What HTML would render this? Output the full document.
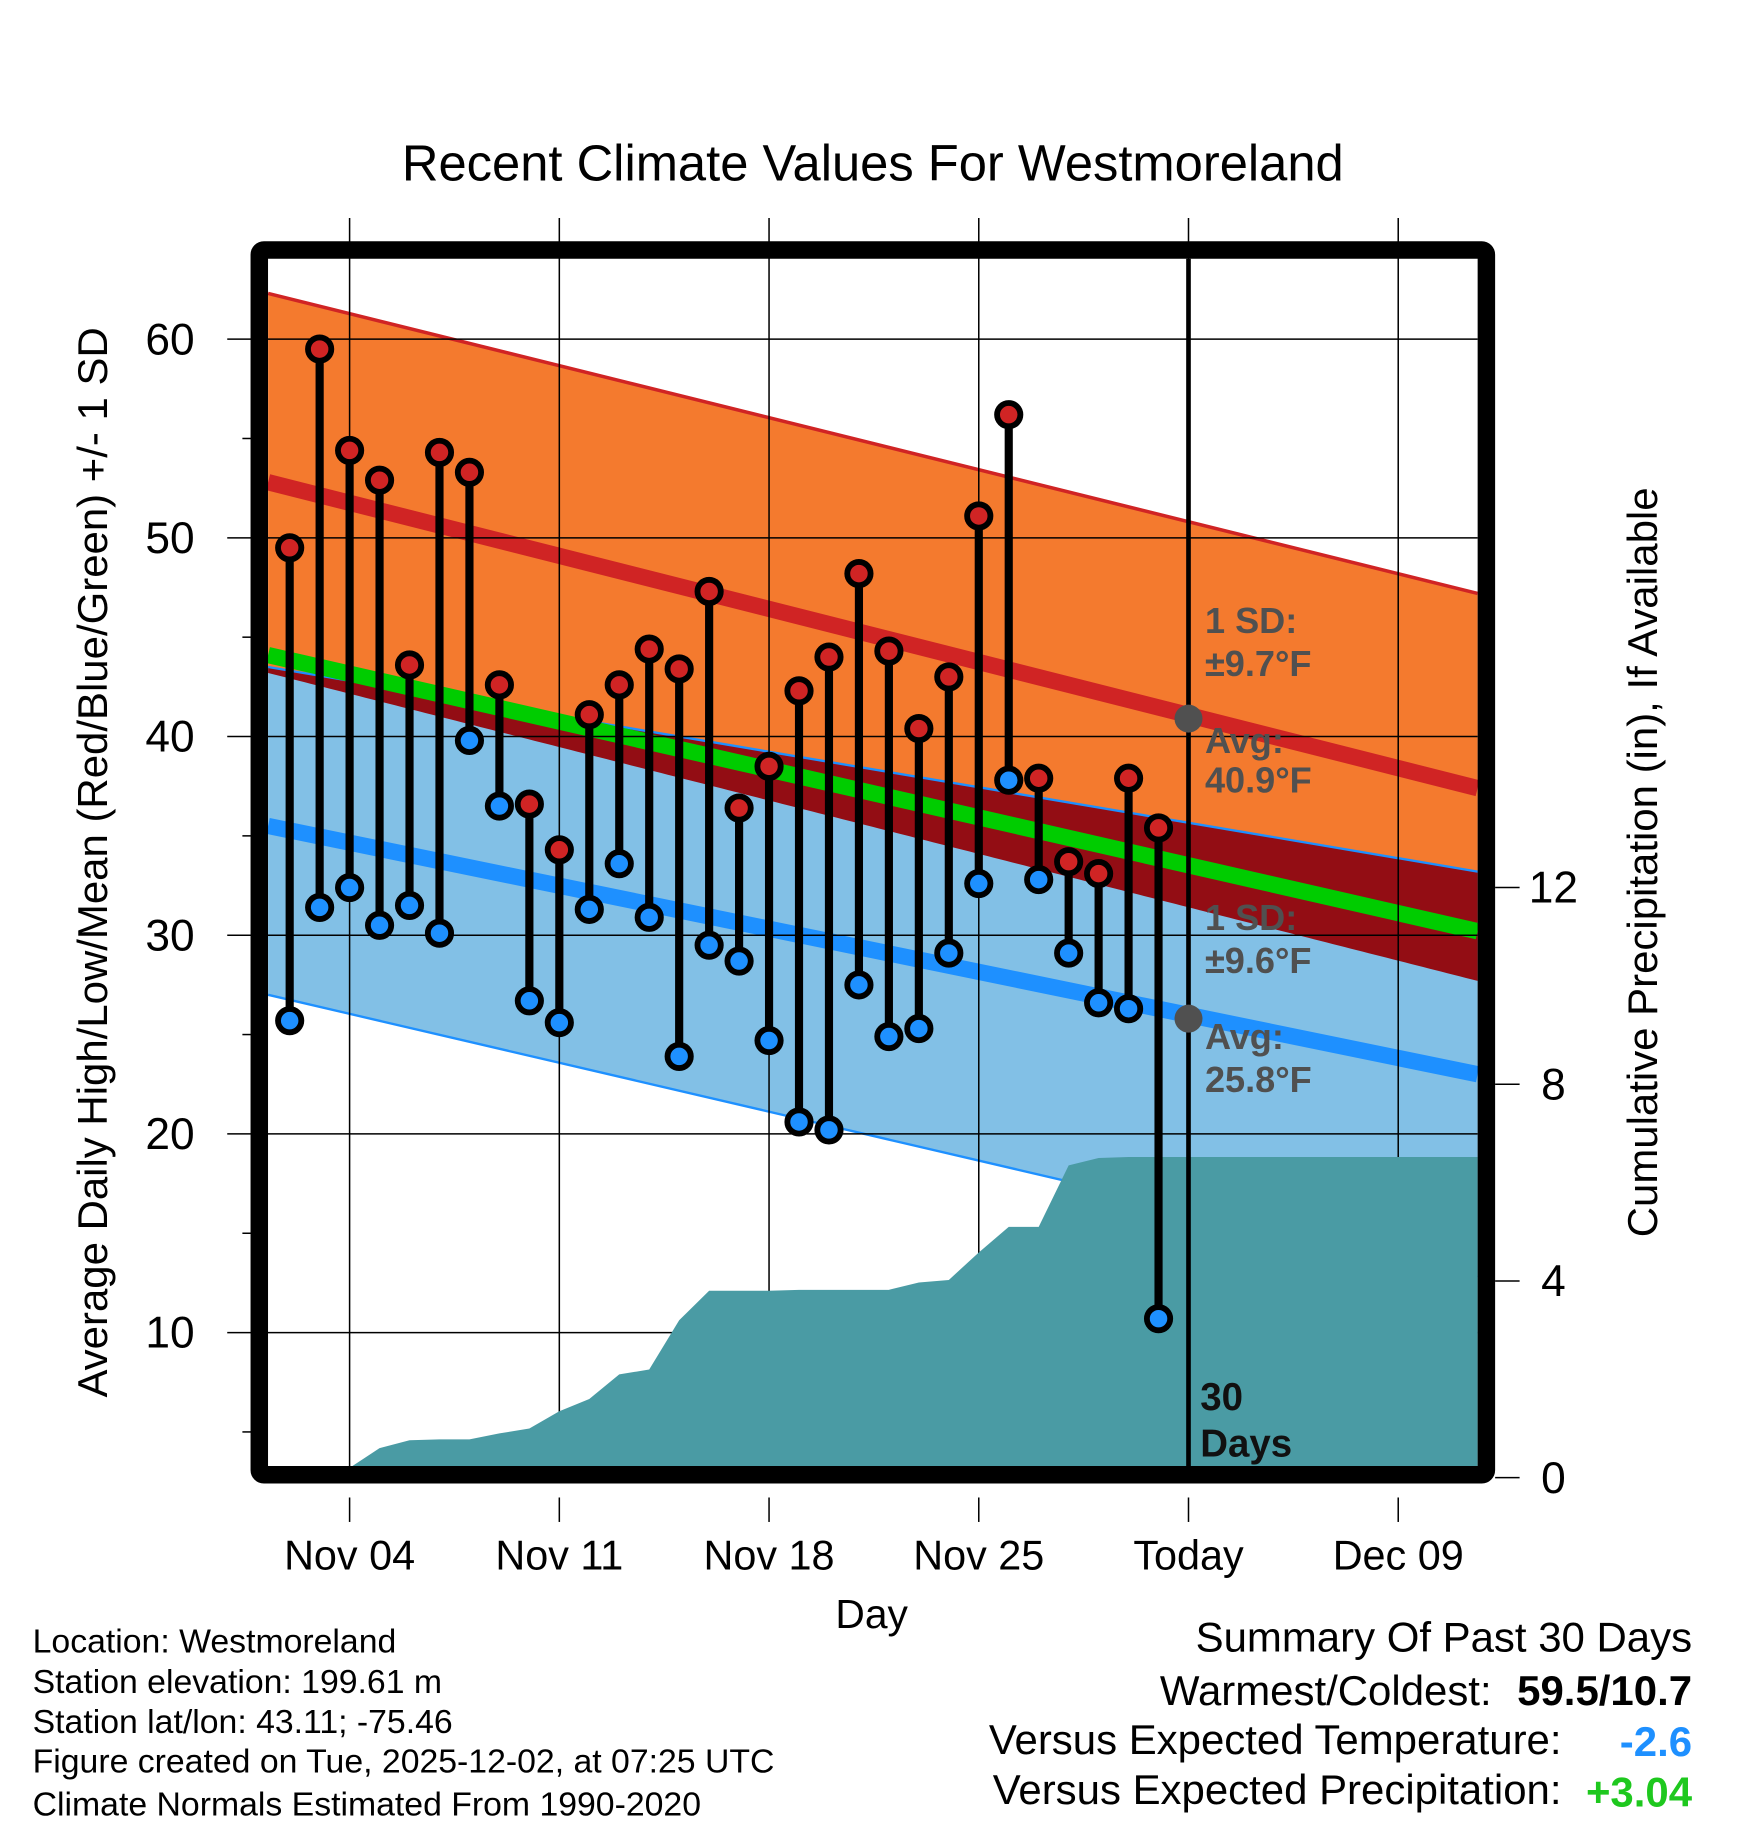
<!DOCTYPE html>
<html><head><meta charset="utf-8"><style>
html,body{margin:0;padding:0;background:#fff;}
svg{display:block;font-family:"Liberation Sans",Arial,sans-serif;}
</style></head><body>
<svg id="chart" width="1748" height="1828" viewBox="0 0 1500 1568.6" xmlns="http://www.w3.org/2000/svg">
<rect width="1500" height="1568.6" fill="#fff"/>
<g id="bands"></g>
<g id="grid"></g>
<g id="precip"></g>
<g id="marks"></g>
<g id="axes"></g>
<text x="749" y="155" font-size="43.5" text-anchor="middle">Recent Climate Values For Westmoreland</text>
<text x="748" y="1397" font-size="35" text-anchor="middle">Day</text>
<text transform="translate(92,740) rotate(-90)" font-size="36" text-anchor="middle">Average Daily High/Low/Mean (Red/Blue/Green) +/- 1 SD</text>
<text transform="translate(1422,740) rotate(-90)" font-size="36" text-anchor="middle">Cumulative Precipitation (in), If Available</text>
<g font-size="31" font-weight="bold" fill="#505050">
<text x="1034" y="543">1 SD:</text><text x="1034" y="580">±9.7°F</text>
<text x="1034" y="646">Avg:</text><text x="1034" y="680">40.9°F</text>
<text x="1034" y="798">1 SD:</text><text x="1034" y="835">±9.6°F</text>
<text x="1034" y="900">Avg:</text><text x="1034" y="937">25.8°F</text>
</g>
<g font-size="33" font-weight="bold" fill="#111">
<text x="1030" y="1210">30</text><text x="1030" y="1250">Days</text>
</g>
<g font-size="29" fill="#000">
<text x="28" y="1418">Location: Westmoreland</text>
<text x="28" y="1453">Station elevation: 199.61 m</text>
<text x="28" y="1487">Station lat/lon: 43.11; -75.46</text>
<text x="28" y="1521">Figure created on Tue, 2025-12-02, at 07:25 UTC</text>
<text x="28" y="1558">Climate Normals Estimated From 1990-2020</text>
</g>
<g font-size="36" text-anchor="end">
<text x="1452" y="1417">Summary Of Past 30 Days</text>
<text x="1280" y="1463">Warmest/Coldest:</text>
<text x="1452" y="1463" font-weight="bold">59.5/10.7</text>
<text x="1340" y="1505">Versus Expected Temperature:</text>
<text x="1452" y="1507" font-weight="bold" fill="#1e90ff">-2.6</text>
<text x="1340" y="1548">Versus Expected Precipitation:</text>
<text x="1452" y="1550" font-weight="bold" fill="#1ec81e">+3.04</text>
</g>
</svg>
<script>
// data
const days = [2,3,4,5,6,7,8,9,10,11,12,13,14,15,16,17,18,19,20,21,22,23,24,25,26,27,28,29,30,31];
const highs = [49.5,59.5,54.4,52.9,43.6,54.3,53.3,42.6,36.6,34.3,41.1,42.6,44.4,43.4,47.3,36.4,38.5,42.3,44.0,48.2,44.3,40.4,43.0,51.1,56.2,37.9,33.7,33.1,37.9,35.4];
const lows = [25.7,31.4,32.4,30.5,31.5,30.1,39.8,36.5,26.7,25.6,31.3,33.6,30.9,23.9,29.5,28.7,24.7,20.6,20.2,27.5,24.9,25.3,29.1,32.6,37.8,32.8,29.1,26.6,26.3,10.7];
const precip = [0,0,0.2,0.6,0.76,0.78,0.78,0.9,1.0,1.35,1.6,2.1,2.2,3.2,3.8,3.8,3.8,3.82,3.82,3.82,3.82,3.97,4.02,4.58,5.1,5.1,6.35,6.5,6.52,6.52];
// normals at left edge / right edge of plot
const normalDays = [1.28, 41.65];
const hiPlus = [62.3, 47.2];
const hiAvg = [52.8, 37.4];
const hiMinus = [43.2, 27.7];
const loPlus = [43.5, 33.2];
const loAvg = [35.5, 23.0];
const loMinus = [27.0, 12.8];
const meanAvg = [44.1, 30.2];
const todayDay = 32;
const todayHiAvg = 40.9;
const todayLoAvg = 25.8;
const xTickDays = [4, 11, 18, 25, 32, 39];
const xTickLabels = ["Nov 04","Nov 11","Nov 18","Nov 25","Today","Dec 09"];
const yTicks = [10,20,30,40,50,60];
const yMinor = [5,15,25,35,45,55];
const y2Ticks = [0,4,8,12];

const NS = "http://www.w3.org/2000/svg";
const L = 230, R = 1268, T = 222, B = 1260;
const X = d => 300 + (d - 4) * 25.71;
const Y = v => 291 + (60 - v) * 17.05;
const Y2 = p => 1268 - p * 42.2;
function mk(tag, attrs, parent) {
  const e = document.createElementNS(NS, tag);
  for (const k in attrs) e.setAttribute(k, attrs[k]);
  parent.appendChild(e); return e;
}
const lerp = (arr, d) => arr[0] + (arr[1] - arr[0]) * (d - normalDays[0]) / (normalDays[1] - normalDays[0]);
const bands = document.getElementById('bands');
function band(upper, lower, fill, name) {
  const d0 = normalDays[0], d1 = normalDays[1];
  const pts = [[X(d0),Y(upper[0])],[X(d1),Y(upper[1])],[X(d1),Y(lower[1])],[X(d0),Y(lower[0])]];
  const p = mk('polygon', {points: pts.map(p=>p.join(',')).join(' '), fill: fill}, bands);
  
  
}
band(hiPlus, hiMinus, '#f47a2e', 'high-sd-band');
band(loPlus, loMinus, '#82c0e6', 'low-sd-band');
// overlap
{
  const top = [], bot = [];
  for (let i = 0; i <= 200; i++) {
    const d = normalDays[0] + (normalDays[1] - normalDays[0]) * i / 200;
    const a = lerp(hiMinus, d), b = lerp(loPlus, d);
    const upper = Math.max(a, b), lower = a;
    top.push([X(d), Y(upper)]); bot.unshift([X(d), Y(lower)]);
  }
  const p = mk('polygon', {points: top.concat(bot).map(p=>p.join(',')).join(' '), fill: '#930d14'}, bands);
  
  
}
function nline(arr, color, w, name) {
  const l = mk('line', {x1: X(normalDays[0]), y1: Y(arr[0]), x2: X(normalDays[1]), y2: Y(arr[1]), stroke: color, 'stroke-width': w}, bands);
  
  
}
nline(hiPlus, '#d02424', 3, 'high-plus-sd-line');
nline(loPlus, '#1e90ff', 2, 'low-plus-sd-line');
nline(loMinus, '#1e90ff', 2, 'low-minus-sd-line');
nline(meanAvg, '#00cc00', 14, 'mean-normal-line');
nline(hiAvg, '#d02424', 14, 'high-normal-line');
nline(loAvg, '#1e90ff', 14, 'low-normal-line');

const grid = document.getElementById('grid');
xTickDays.forEach(d => {
  const l = mk('line', {x1: X(d), x2: X(d), y1: 187, y2: B, stroke: '#000', 'stroke-width': 1.3}, grid);
  
  
  const t2 = mk('line', {x1: X(d), x2: X(d), y1: 1285, y2: 1306, stroke: '#000', 'stroke-width': 1.3}, grid);
  
  
});
yTicks.forEach(v => {
  const l = mk('line', {x1: 195, x2: R, y1: Y(v), y2: Y(v), stroke: '#000', 'stroke-width': 1.3}, grid);
  
  
});

// precip
const precipG = document.getElementById('precip');
{
  const pts = [[X(days[0]), B]];
  days.forEach((d, i) => pts.push([X(d), Math.min(B, Y2(precip[i]))]));
  pts.push([R, Math.min(B, Y2(precip[precip.length-1]))]);
  pts.push([R, B]);
  const p = mk('polygon', {points: pts.map(p=>p.join(',')).join(' '), fill: '#4a9ba4'}, precipG);
  
  
}

const marks = document.getElementById('marks');
{
  const tl = mk('line', {x1: X(todayDay), x2: X(todayDay), y1: T, y2: B, stroke: '#000', 'stroke-width': 4}, marks);
  
  
}
days.forEach((d, i) => {
  const s = mk('line', {x1: X(d), x2: X(d), y1: Y(highs[i]), y2: Y(lows[i]), stroke: '#000', 'stroke-width': 7}, marks);
  
  
});
days.forEach((d, i) => {
  const h = mk('circle', {cx: X(d), cy: Y(highs[i]), r: 10, fill: '#d02424', stroke: '#000', 'stroke-width': 5}, marks);
  
  
  const l = mk('circle', {cx: X(d), cy: Y(lows[i]), r: 10, fill: '#1e90ff', stroke: '#000', 'stroke-width': 5}, marks);
  
  
});
{
  const a = mk('circle', {cx: X(todayDay), cy: Y(todayHiAvg), r: 12, fill: '#505050'}, marks);
  
  
  const b = mk('circle', {cx: X(todayDay), cy: Y(todayLoAvg), r: 12, fill: '#505050'}, marks);
  
  
}

const axes = document.getElementById('axes');
{
  const f = mk('rect', {x: 222.5, y: 214.5, width: 1053, height: 1051, fill: 'none', stroke: '#000', 'stroke-width': 15, rx: 4}, axes);
  
  
}
yTicks.forEach(v => {
  const t = mk('text', {x: 167, y: Y(v) + 13, 'font-size': 38, 'text-anchor': 'end'}, axes);
  t.textContent = v;
  
  
});
yMinor.forEach(v => {
  const l = mk('line', {x1: 208, x2: 216, y1: Y(v), y2: Y(v), stroke: '#000', 'stroke-width': 1.3}, axes);
  
  
});
y2Ticks.forEach(p => {
  const l = mk('line', {x1: 1283, x2: 1304, y1: Y2(p), y2: Y2(p), stroke: '#000', 'stroke-width': 1.3}, axes);
  
  
  const t = mk('text', {x: 1333, y: Y2(p) + 13, 'font-size': 38, 'text-anchor': 'middle'}, axes);
  t.textContent = p;
  
  
});
xTickDays.forEach((d, i) => {
  const t = mk('text', {x: X(d), y: 1347, 'font-size': 35.5, 'text-anchor': 'middle'}, axes);
  t.textContent = xTickLabels[i];
  
  
});
</script>
</body></html>
